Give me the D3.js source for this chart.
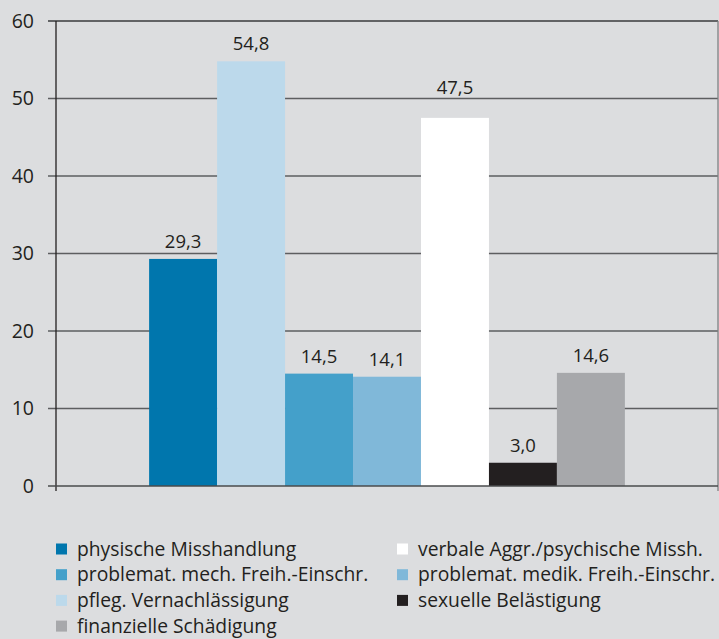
<!DOCTYPE html>
<html><head><meta charset="utf-8">
<script src="https://cdn.jsdelivr.net/npm/d3@7"></script>
<style>
html,body{margin:0;padding:0;background:#dcdddf;}
svg{display:block;}
text{font-family:"Open Sans","Noto Sans",sans-serif;fill:#231f20;}
</style></head>
<body><svg id="c" width="719" height="639"></svg>
<script>
const categories = ["physische Misshandlung","pfleg. Vernachlässigung","problemat. mech. Freih.-Einschr.","problemat. medik. Freih.-Einschr.","verbale Aggr./psychische Missh.","sexuelle Belästigung","finanzielle Schädigung"];
const values = [29.3, 54.8, 14.5, 14.1, 47.5, 3.0, 14.6];
const colors = ["#0076ad","#bcd9eb","#44a0ca","#80b8d9","#ffffff","#231f20","#a7a8ab"];
const legendOrder = ["physische Misshandlung","verbale Aggr./psychische Missh.","problemat. mech. Freih.-Einschr.","problemat. medik. Freih.-Einschr.","pfleg. Vernachlässigung","sexuelle Belästigung","finanzielle Schädigung"];
const yTicks = [0,10,20,30,40,50,60];

(function(){
const svg = d3.select("#c");
const mL = 56, mR = 718, mT = 21, mB = 486;
const x = d3.scaleBand().domain(categories).range([mL, mR]).paddingInner(0).paddingOuter(1.37);
const y = d3.scaleLinear().domain([0,60]).range([mB, mT]);
const fmt = v => d3.format(".1f")(v).replace(".", ",");

// gridlines
svg.append("g").selectAll("line").data(yTicks.filter(t=>t>0)).join("line")
  .attr("x1", mL-8).attr("x2", mR).attr("y1", d=>y(d)).attr("y2", d=>y(d))
  .attr("stroke", d=> d===60 ? "#3a3a3c" : "#5d5e60").attr("stroke-width", 1.3);
// right border
svg.append("line").attr("x1", mR).attr("x2", mR).attr("y1", mT).attr("y2", mB+5)
  .attr("stroke", "#808183").attr("stroke-width", 1.3);

// bars
svg.append("g").selectAll("rect").data(categories).join("rect")
  .attr("x", d=>x(d)).attr("width", x.bandwidth())
  .attr("y", (d,i)=>y(values[i])).attr("height", (d,i)=>mB - y(values[i]))
  .attr("fill", (d,i)=>colors[i]);

// y axis
const yAxis = d3.axisLeft(y).tickValues(yTicks).tickSize(0).tickPadding(22).tickFormat(d3.format("d"));
const ga = svg.append("g").attr("transform", `translate(${mL},0)`).call(yAxis);
ga.select(".domain").remove();
ga.selectAll("text").attr("font-size", 19.5).attr("font-family", '"Open Sans",sans-serif').attr("fill","#231f20");
svg.append("line").attr("x1", mL).attr("x2", mL).attr("y1", mT).attr("y2", mB+5)
  .attr("stroke", "#231f20").attr("stroke-width", 1.3);
// baseline
svg.append("line").attr("x1", mL-8).attr("x2", mR).attr("y1", mB).attr("y2", mB)
  .attr("stroke", "#4a4b4d").attr("stroke-width", 1.3);

// value labels (moved above a gridline if it would cut through the text)
function labelY(v){
  let b = y(v) - 11;
  yTicks.forEach(t=>{ const gy = y(t); if (gy < b && gy > b - 14) b = gy - 4.5; });
  return b;
}
svg.append("g").selectAll("text").data(categories).join("text")
  .attr("x", d=>x(d)+x.bandwidth()/2).attr("y", (d,i)=>labelY(values[i]))
  .attr("text-anchor","middle").attr("font-size", 18.5)
  .text((d,i)=>fmt(values[i]));

// legend
const lg = svg.append("g");
legendOrder.forEach((name,k)=>{
  const col = k % 2, row = Math.floor(k/2);
  const lx = col===0 ? 56 : 397, ly = 549 + row*25.7;
  const i = categories.indexOf(name);
  lg.append("rect").attr("x", lx).attr("y", ly-5.5).attr("width", 11).attr("height", 11).attr("fill", colors[i]);
  lg.append("text").attr("x", lx+21).attr("y", ly).attr("dy","0.35em").attr("font-size", 19.3).text(name);
});
})();
</script></body></html>
